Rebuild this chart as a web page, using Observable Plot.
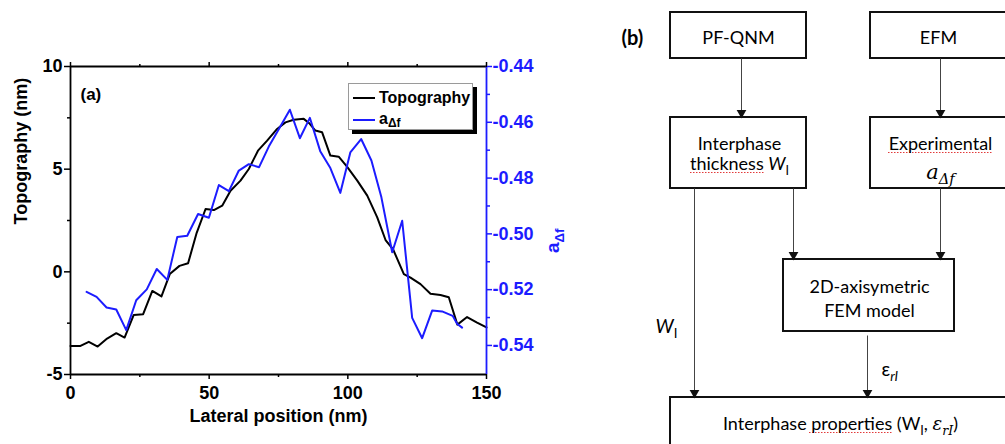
<!DOCTYPE html>
<html>
<head>
<meta charset="utf-8">
<script src="https://cdn.jsdelivr.net/npm/d3@7"></script>
<script src="https://cdn.jsdelivr.net/npm/@observablehq/plot@0.6"></script>
<style>
  body { margin: 0; background: #fff; }
  #fig { position: relative; width: 1005px; height: 444px; overflow: hidden; display: flex; background: #fff; }
  #fig svg { flex: none; }
  #legend {
    position: absolute; left: 348px; top: 83px; width: 123px; height: 45px;
    background: #fff; border: 1px solid #9a9a9a; box-shadow: 4px 4px 0 #000;
    font: bold 16px "Liberation Sans", Arial, sans-serif; color: #000;
  }
  #legend .row { position: absolute; left: 4px; height: 20px; display: flex; align-items: center; }
  #legend .sw { width: 22px; height: 2px; margin-right: 4px; }
  #legend sub { font-size: 12px; vertical-align: -3px; }
</style>
</head>
<body>
<div id="fig"></div>
<script>
// ---- Panel (a): line profile data ----
const topoX = [0, 3.6, 6.6, 9.8, 13.2, 16.5, 19.5, 22.8, 26.2, 29.5, 32.8, 35.8, 39.3, 42.4, 45.5, 48.7, 51.7, 54.7, 57.7, 61.3, 64.3, 67.6, 70.9, 74.5, 77.5, 80.5, 84.1, 86.2, 88.3, 90.7, 93.7, 96.7, 99.7, 103.4, 107.0, 110.6, 113.6, 116.3, 120.2, 122.6, 126.2, 129.8, 133.4, 136.4, 139.5, 143.0, 146.6, 150];
const topoY = [-3.61, -3.61, -3.41, -3.64, -3.25, -2.99, -3.2, -2.1, -2.06, -0.93, -1.2, -0.11, 0.29, 0.42, 1.9, 3.06, 3.01, 3.22, 3.95, 4.44, 5.01, 5.9, 6.39, 6.96, 7.28, 7.41, 7.45, 7.22, 6.88, 6.80, 5.66, 5.61, 5.12, 4.44, 3.71, 2.65, 1.55, 1.1, -0.11, -0.28, -0.6, -1.07, -1.13, -1.24, -2.57, -2.2, -2.47, -2.71];

const afX = [5.8, 9.4, 13.0, 16.5, 20.1, 23.7, 27.5, 31.1, 34.9, 38.5, 42.1, 46.0, 49.9, 53.5, 57.1, 60.7, 64.3, 68.0, 71.5, 75.3, 79.1, 82.7, 86.3, 90.1, 93.7, 97.3, 100.9, 104.8, 108.5, 112.1, 116.0, 119.6, 123.2, 126.8, 130.4, 134.0, 137.8, 139.4, 141.2];
const afY = [-0.5208, -0.5226, -0.5264, -0.5271, -0.5345, -0.5238, -0.5199, -0.5126, -0.5165, -0.5011, -0.5007, -0.4929, -0.4942, -0.4825, -0.4847, -0.4773, -0.4750, -0.4761, -0.4687, -0.4621, -0.4555, -0.4657, -0.4584, -0.4705, -0.4764, -0.4853, -0.4708, -0.4660, -0.4737, -0.4869, -0.5066, -0.4953, -0.5301, -0.5374, -0.5275, -0.5278, -0.5294, -0.5322, -0.5336];

const seriesNames = ["Topography", "a{s:Δf}"];
const xTicks = [0, 50, 100, 150];
const xMinor = [25, 75, 125];
const leftTicks = [-5, 0, 5, 10];
const leftMinor = [-2.5, 2.5, 7.5];
const rightTicks = [-0.44, -0.46, -0.48, -0.50, -0.52, -0.54];
const rightMinor = [-0.45, -0.47, -0.49, -0.51, -0.53];

// ---- Panel (b): flowchart content ----
const boxTexts = [
  ["PF-QNM"],
  ["EFM"],
  ["Interphase", "thickness {i:W}{s:I}"],
  ["Experimental", "{m:a}{ms:Δf}"],
  ["2D-axisymetric", "FEM model"],
  ["Interphase properties (W{s:I}, {m:ε}{ms:rI})"]
];
const edgeLabels = ["{i:W}{s:I}", "ε{si:rI}"];

// Flowchart layout (pixel coordinates of the panel)
const boxLayout = [
  {x1: 670, x2: 806, y1: 12, y2: 58, cx: 738, base: [43], size: [18]},
  {x1: 870, x2: 1008, y1: 12, y2: 58, cx: 938, base: [43], size: [18]},
  {x1: 670, x2: 806, y1: 117, y2: 188, cx: 739, base: [149, 169], size: [18, 18]},
  {x1: 870, x2: 1008, y1: 117, y2: 188, cx: 940, base: [149, 178], size: [18, 21]},
  {x1: 783, x2: 954, y1: 259, y2: 331, cx: 869, base: [292, 316], size: [18, 18]},
  {x1: 670, x2: 1012, y1: 397, y2: 470, cx: 840, base: [429], size: [18]}
];
const edgeLayout = [
  {x: 741, y1: 58, y2: 117},
  {x: 940, y1: 58, y2: 117},
  {x: 694, y1: 188, y2: 397},
  {x: 793, y1: 188, y2: 259},
  {x: 940, y1: 188, y2: 259},
  {x: 867, y1: 335, y2: 397}
];
const edgeLabelLayout = [{x: 655, y: 332}, {x: 881, y: 375}];
const squiggleLayout = [
  {x1: 690, x2: 764, y: 172},
  {x1: 888, x2: 993, y: 152},
  {x1: 809, x2: 893, y: 432}
];

const BLUE = "#1c1cff";
const SANS = '"Liberation Sans", Arial, Helvetica, sans-serif';

// right-hand a_Δf axis expressed in units of the left topography axis
const toLeft = d3.scaleLinear([-0.44, -0.54], [10, -3.585]);
const fmtR = d => d3.format(".2f")(toLeft.invert(d)).replace("−", "-");

const chartA = Plot.plot({
  width: 600, height: 444,
  marginLeft: 70, marginRight: 114, marginTop: 66, marginBottom: 70,
  style: {fontFamily: SANS, fontSize: "16px", fontWeight: "bold", color: "#000", background: "#fff", overflow: "visible"},
  x: {domain: [0, 150]},
  y: {domain: [-5, 10]},
  marks: [
    Plot.line(topoY, {x: topoX, y: topoY, stroke: "#000", strokeWidth: 2}),
    Plot.line(afY, {x: afX, y: afY.map(toLeft), stroke: BLUE, strokeWidth: 2}),
    // frame
    Plot.ruleY([-5, 10], {stroke: "#000", strokeWidth: 1.8}),
    Plot.ruleX([0], {stroke: "#000", strokeWidth: 1.8}),
    Plot.ruleX([150], {stroke: BLUE, strokeWidth: 1.8}),
    // bottom / top axes
    Plot.axisX(xTicks, {anchor: "bottom", tickSize: 5, tickPadding: 7, strokeWidth: 1.5, tickFormat: d => String(d), label: null, fontSize: 18}),
    Plot.axisX(xMinor, {anchor: "bottom", tickSize: 3, strokeWidth: 1.5, tickFormat: () => "", label: null}),
    Plot.axisX(xTicks, {anchor: "top", tickSize: 5, strokeWidth: 1.5, tickFormat: () => "", label: null}),
    Plot.axisX(xMinor, {anchor: "top", tickSize: 3, strokeWidth: 1.5, tickFormat: () => "", label: null}),
    // left axis
    Plot.axisY(leftTicks, {anchor: "left", tickSize: 6, tickPadding: 2, strokeWidth: 1.5, tickFormat: d => String(d), label: null, fontSize: 18}),
    Plot.axisY(leftMinor, {anchor: "left", tickSize: 3, strokeWidth: 1.5, tickFormat: () => "", label: null}),
    // right axis (a_Δf)
    Plot.axisY(rightTicks.map(toLeft), {anchor: "right", tickSize: 5, tickPadding: 1, strokeWidth: 1.5, tickFormat: fmtR, label: null, color: BLUE, fontSize: 18}),
    Plot.axisY(rightMinor.map(toLeft), {anchor: "right", tickSize: 3, strokeWidth: 1.5, tickFormat: () => "", label: null, color: BLUE}),
    // titles
    Plot.text(["Topography (nm)"], {frameAnchor: "left", dx: -49, dy: 4, rotate: -90, fontSize: 18, fontWeight: "bold"}),
    Plot.text(["Lateral position (nm)"], {frameAnchor: "bottom", dy: 47, fontSize: 18, fontWeight: "bold"}),
    Plot.text([seriesNames[1]], {frameAnchor: "right", dx: 66, dy: 8, rotate: -90, fontSize: 19, fontWeight: "bold", fill: BLUE}),
    Plot.text(["(a)"], {frameAnchor: "top-left", dx: 10, dy: 21, textAnchor: "start", fontSize: 17, fontWeight: "bold"})
  ]
});

// flowchart records built from the layout and the texts
const boxes = boxLayout.map((b, i) => ({...b, lines: boxTexts[i]}));
const boxRows = boxes.flatMap(b => b.lines.map((t, j) => ({x: b.cx, y: b.base[j], s: b.size[j], t})));
const labelRows = edgeLabelLayout.map((p, i) => ({...p, t: edgeLabels[i]}));

const chartB = Plot.plot({
  width: 405, height: 444, margin: 0,
  x: {domain: [600, 1005], axis: null},
  y: {domain: [0, 444], reverse: true, axis: null},
  style: {fontFamily: "Lato, 'Open Sans', sans-serif", fontSize: "18px", color: "#000", background: "#fff"},
  marks: [
    Plot.rect(boxes, {x1: "x1", x2: "x2", y1: "y1", y2: "y2", fill: "#fff", stroke: "#111", strokeWidth: 2}),
    Plot.link(edgeLayout, {x1: "x", x2: "x", y1: "y1", y2: d => d.y2 - 7, stroke: "#444", strokeWidth: 1}),
    Plot.dot(edgeLayout, {x: "x", y: d => d.y2 - 4.6, symbol: "triangle", r: 3.6, rotate: 180, fill: "#111", stroke: "none"}),
    Plot.ruleY(squiggleLayout, {y: "y", x1: "x1", x2: "x2", stroke: "#e23a3a", strokeWidth: 1, strokeDasharray: "1.5,1.5"}),
    Plot.text(boxRows, {x: "x", y: "y", text: "t", fontSize: "s", lineAnchor: "bottom"}),
    Plot.text(labelRows, {x: "x", y: "y", text: "t", lineAnchor: "bottom", textAnchor: "start", fontSize: 19}),
    Plot.text(["(b)"], {frameAnchor: "top-left", dx: 21, dy: 44, lineAnchor: "bottom", textAnchor: "start", fontSize: 20, fontWeight: "bold"})
  ]
});

const fig = document.getElementById("fig");
fig.append(chartA, chartB);

// legend for panel (a)
const legend = d3.select(fig).append("div").attr("id", "legend");
[["#000", 4], [BLUE, 26]].forEach(([c, top], i) => {
  const row = legend.append("div").attr("class", "row").style("top", top + "px");
  row.append("div").attr("class", "sw").style("background", c);
  const name = seriesNames[i].replace(/\{s:([^}]*)\}/, "<sub>$1</sub>");
  row.append("span").html(name);
});

// small markup for subscripts / italics inside SVG text
function richText(root) {
  root.querySelectorAll("text").forEach(el => {
    const raw = el.textContent;
    if (!/\{[a-z]+:/.test(raw)) return;
    const fs = parseFloat(getComputedStyle(el).fontSize) || 16;
    while (el.firstChild) el.removeChild(el.firstChild);
    let down = false;
    const add = (str, kind) => {
      if (!str) return;
      const ts = document.createElementNS("http://www.w3.org/2000/svg", "tspan");
      ts.textContent = str;
      const sub = kind === "s" || kind === "si" || kind === "ms";
      if (sub !== down) { ts.setAttribute("dy", (sub ? 0.28 : -0.28) * fs); down = sub; }
      if (sub) ts.setAttribute("font-size", 0.7 * fs);
      if (kind === "i" || kind === "si" || kind === "m" || kind === "ms") ts.setAttribute("font-style", "italic");
      if (kind === "m" || kind === "ms") ts.setAttribute("font-family", "'DejaVu Serif', serif");
      el.appendChild(ts);
    };
    const re = /\{([a-z]+):([^}]*)\}/g;
    let last = 0, m;
    while ((m = re.exec(raw))) {
      add(raw.slice(last, m.index), "");
      add(m[2], m[1]);
      last = re.lastIndex;
    }
    add(raw.slice(last), "");
  });
}
richText(chartA);
richText(chartB);
</script>
</body>
</html>
